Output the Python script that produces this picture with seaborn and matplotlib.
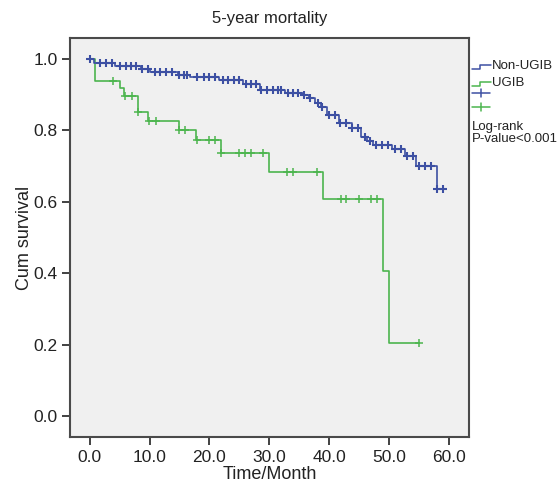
import numpy as np
import pandas as pd
import matplotlib
matplotlib.use("Agg")
import matplotlib.pyplot as plt
from matplotlib.lines import Line2D
import seaborn as sns

# ---------------- data ----------------
groups = ["Non-UGIB", "UGIB"]

nonugib_step_t = [0.7, 4.3, 8.6, 10.1, 14.7, 16.7, 21.6, 25.6, 28.4, 32.6, 35.7, 36.7,
                  37.6, 38.6, 39.6, 41.6, 43.8, 45.4, 46.4, 47.4, 50.5, 52.7, 54.6, 58.0]
nonugib_step_s = [0.988, 0.980, 0.971, 0.963, 0.956, 0.949, 0.940, 0.930, 0.914, 0.906, 0.899, 0.890,
                  0.878, 0.867, 0.843, 0.822, 0.808, 0.782, 0.771, 0.759, 0.747, 0.728, 0.700, 0.635]
nonugib_censor_t = [0.0, 1.7, 2.8, 3.7, 5.1, 6.1, 6.9, 7.8, 8.8, 9.8, 10.9, 11.7, 12.7, 13.8,
                    14.9, 15.7, 16.3, 17.9, 19.1, 19.9, 20.9, 22.2, 23.1, 24.1, 25.0, 26.1,
                    26.9, 27.8, 28.7, 29.7, 30.7, 31.5, 32.0, 33.2, 34.0, 34.8, 35.9, 36.9,
                    38.2, 38.9, 40.0, 41.0, 41.8, 42.9, 43.9, 44.9, 46.0, 46.8, 47.9, 48.9,
                    49.9, 51.0, 52.1, 53.1, 54.0, 55.1, 56.0, 57.0, 58.1, 59.1]

ugib_step_t = [0.95, 5.0, 5.7, 8.0, 9.8, 14.9, 17.8, 21.9, 30.0, 39.0, 49.0, 50.0]
ugib_step_s = [0.939, 0.918, 0.897, 0.852, 0.827, 0.801, 0.773, 0.738, 0.684, 0.609, 0.405, 0.203]
ugib_censor_t = [3.9, 5.9, 7.0, 8.1, 9.9, 11.0, 15.0, 15.9, 17.9, 19.9, 20.9, 22.0, 25.0, 25.9,
                 26.9, 28.9, 33.0, 34.0, 38.0, 42.0, 42.9, 45.0, 47.0, 48.0, 55.1]

x_ticks = [0, 10, 20, 30, 40, 50, 60]
y_ticks = [0.0, 0.2, 0.4, 0.6, 0.8, 1.0]

title = "5-year mortality"
x_label = "Time/Month"
y_label = "Cum survival"
note_lines = ["Log-rank", "P-value<0.001"]

# ---------------- style ----------------
sns.set_style("white")
plt.rcParams["font.family"] = ["Liberation Sans", "DejaVu Sans"]

W, H = 558, 484
DPI = 100
fig = plt.figure(figsize=(W / DPI, H / DPI), dpi=DPI)
fig.patch.set_facecolor("white")

def fx(px):
    return px / W

def fy(py):
    return 1 - py / H

L, R, T, B = 70, 469, 38, 437
ax = fig.add_axes([fx(L), fy(B), fx(R) - fx(L), fy(T) - fy(B)])
ax.set_facecolor("#f0f0f0")

colors = {"Non-UGIB": "#3d50a3", "UGIB": "#4cb54e"}

def build(step_t, step_s, censor_t):
    st = np.array(step_t)
    ss = np.array(step_s)
    ct = np.array(censor_t)
    last = max(ct.max(), st.max())
    line = pd.DataFrame({"t": np.concatenate([[0.0], st, [last]]),
                         "s": np.concatenate([[1.0], ss, [ss[-1]]])})
    def surv(t):
        idx = np.searchsorted(st, t, side="right") - 1
        return 1.0 if idx < 0 else ss[idx]
    cens = pd.DataFrame({"t": ct, "s": [surv(t) for t in ct]})
    return line, cens

data = {
    "Non-UGIB": build(nonugib_step_t, nonugib_step_s, nonugib_censor_t),
    "UGIB": build(ugib_step_t, ugib_step_s, ugib_censor_t),
}

for g in ["UGIB", "Non-UGIB"]:
    line, cens = data[g]
    sns.lineplot(data=line, x="t", y="s", ax=ax, color=colors[g], lw=1.2,
                 drawstyle="steps-post", estimator=None, sort=False, zorder=3)
    ms = 6 if g == "Non-UGIB" else 5.5
    mew = 1.5 if g == "Non-UGIB" else 1.1
    ax.plot(cens["t"], cens["s"], ls="none", marker="+", ms=ms, mew=mew,
            color=colors[g], zorder=4)

ax.set_xlim(-3.3, 63.4)
ax.set_ylim(-0.059, 1.059)
ax.set_xticks(x_ticks)
ax.set_xticklabels([f"{v:.1f}" for v in x_ticks])
ax.set_yticks(y_ticks)
ax.set_yticklabels([f"{v:.1f}" for v in y_ticks])
ax.tick_params(axis="both", direction="out", length=6, width=1.3, color="#333333",
               labelsize=12.5, labelcolor="#222222", pad=3, left=True, bottom=True)
for sp in ax.spines.values():
    sp.set_visible(True)
    sp.set_color("#4a4a4a")
    sp.set_linewidth(1.5)

ax.set_xlabel(x_label, fontsize=13, color="#222222", labelpad=1)
ax.set_ylabel(y_label, fontsize=13, color="#222222", labelpad=0)

fig.text(fx((L + R) / 2), fy(18), title, ha="center", va="center", fontsize=12, color="#222222")

# ---------------- legend (outside, right) ----------------
lx0 = 472
for g, yy in [("Non-UGIB", 66), ("UGIB", 83)]:
    xs = [lx0, lx0 + 8, lx0 + 8, lx0 + 19]
    ys = [yy + 3, yy + 3, yy - 1, yy - 1]
    fig.add_artist(Line2D([fx(v) for v in xs], [fy(v) for v in ys],
                          transform=fig.transFigure, color=colors[g], lw=1.1))
    fig.text(fx(lx0 + 20), fy(yy), g, ha="left", va="center", fontsize=9.5, color="#222222")
for g, yy in [("Non-UGIB", 93), ("UGIB", 107)]:
    fig.add_artist(Line2D([fx(lx0), fx(lx0 + 18)], [fy(yy), fy(yy)],
                          transform=fig.transFigure, color=colors[g], lw=1.1))
    fig.add_artist(Line2D([fx(lx0 + 9), fx(lx0 + 9)], [fy(yy - 4), fy(yy + 4)],
                          transform=fig.transFigure, color=colors[g], lw=1.1))
for i, s in enumerate(note_lines):
    fig.text(fx(lx0), fy(127 + 12.5 * i), s, ha="left", va="center", fontsize=9.5, color="#222222")

fig.savefig("out.png", dpi=DPI, facecolor="white")
